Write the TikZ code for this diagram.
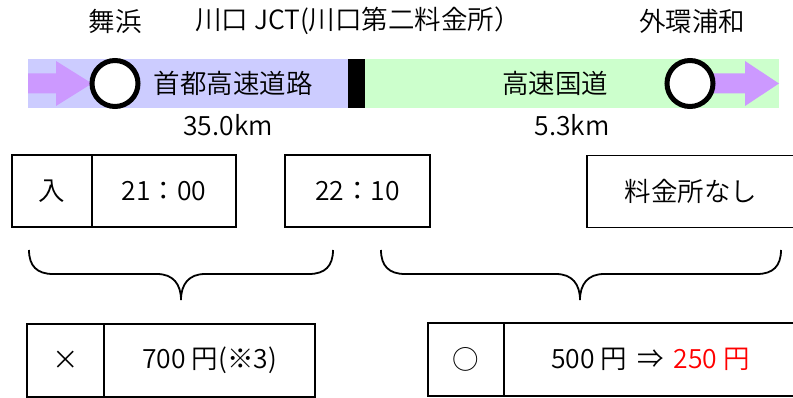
\documentclass[tikz,border=0pt]{standalone}
\usepackage{fontspec}
\setmainfont{Noto Sans CJK JP}[UprightFont = * DemiLight]
\usepackage{tikz}
\definecolor{roadblue}{RGB}{204,204,255}
\definecolor{roadgreen}{RGB}{204,255,204}
\definecolor{flowpurple}{RGB}{204,153,255}

\begin{document}
\begin{tikzpicture}[x = 1pt, y = -1pt, font = \fontsize{26.5}{30}\selectfont]
\tikzstyle{CellStyle}=[shape = rectangle,
                       draw,
                       line width = 1.6pt,
                       minimum height = 72pt,
                       inner sep = 0pt]
\tikzstyle{RingStyle}=[shape = circle,
                       draw,
                       line width = 5pt,
                       fill = white,
                       minimum size = 46pt,
                       inner sep = 0pt]
\tikzstyle{BraceStyle}=[line width = 1.8pt]
\useasboundingbox (0,0) rectangle (793,398);
\clip (0,0) rectangle (793,398);
\fill[roadblue] (28,59) rectangle (348,108);
\fill[black] (348,59) rectangle (365,108);
\fill[roadgreen] (365,59) rectangle (779,108);
\fill[flowpurple] (28,73.5) -- (56,73.5) -- (56,61) -- (92,83.5) -- (56,106) -- (56,93.5) -- (28,93.5) -- cycle;
\fill[flowpurple] (712,73.5) -- (745,73.5) -- (745,61) -- (779,83.5) -- (745,106) -- (745,93.5) -- (712,93.5) -- cycle;
\node[RingStyle] (maihama) at (115,83.5) {};
\node[RingStyle] (urawa) at (690,83.5) {};
\node (maihamaName) at (115,21) {舞浜};
\node (jctName) at (358,21) {川口 JCT(川口第二料金所）};
\node (urawaName) at (692,21) {外環浦和};
\node (shutoko) at (233,83.5) {首都高速道路};
\node (kokudo) at (555,83.5) {高速国道};
\node (shutokoKm) at (228,125) {35.0km};
\node (kokudoKm) at (572,125) {5.3km};
\node[CellStyle, minimum width = 80pt] (entry) at (52,191) {入};
\node[CellStyle, minimum width = 144pt] (entryTime) at (164,191) {21：00};
\node[CellStyle, minimum width = 145pt] (jctTime) at (357.5,191) {22：10};
\node[CellStyle, minimum width = 208pt] (noGate) at (691,191.5) {料金所なし};
\node[CellStyle, minimum width = 77pt, minimum height = 73pt] (shutokoMark) at (65.5,360.5) {×};
\node[CellStyle, minimum width = 211pt, minimum height = 73pt] (shutokoFee) at (209.5,360.5) {700 円(※3)};
\node[CellStyle, minimum width = 76pt, minimum height = 73pt] (kokudoMark) at (466,359.5) {○};
\node[CellStyle, minimum width = 293pt, minimum height = 73pt] (kokudoFee) at (650.5,359.5) {500 円\hspace{10pt}⇒\hspace{10pt}{\color{red}250 円}};
\draw[BraceStyle] (29,250) .. controls (29,266) and (37,274) .. (53,274) -- (157,274) .. controls (173,274) and (181,284) .. (181,300) .. controls (181,284) and (189,274) .. (205,274) -- (309,274) .. controls (325,274) and (333,266) .. (333,250);
\draw[BraceStyle] (381,250) .. controls (381,266) and (389,274) .. (405,274) -- (556,274) .. controls (572,274) and (580,284) .. (580,300) .. controls (580,284) and (588,274) .. (604,274) -- (757,274) .. controls (773,274) and (781,266) .. (781,250);
\end{tikzpicture}
\end{document}
